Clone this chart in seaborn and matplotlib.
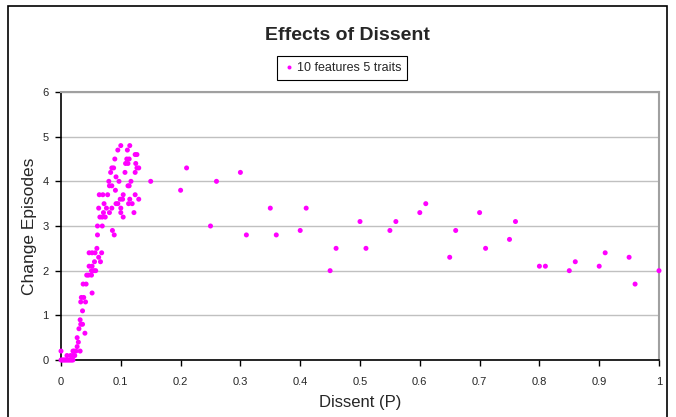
import matplotlib
matplotlib.use("Agg")
from matplotlib import pyplot as plt
from matplotlib.patches import Rectangle
import numpy as np
import pandas as pd
import seaborn as sns

# dissent probability P and number of change episodes
dissent = [
    0.000, 0.002, 0.004, 0.006, 0.008, 0.010, 0.012, 0.014, 0.016, 0.018, 0.020,
    0.000, 0.010, 0.016, 0.020, 0.023, 0.020, 0.022, 0.025, 0.032,
    0.027, 0.029, 0.027, 0.040, 0.030, 0.033, 0.036, 0.032,
    0.036, 0.033, 0.041, 0.034, 0.038, 0.052, 0.037, 0.042,
    0.043, 0.046, 0.051, 0.051, 0.055, 0.058, 0.047, 0.052,
    0.056, 0.066, 0.063, 0.047, 0.052, 0.057, 0.068, 0.060,
    0.061, 0.089, 0.086, 0.061, 0.069,
    0.065, 0.069, 0.074, 0.104, 0.071, 0.081, 0.100, 0.122,
    0.063, 0.076, 0.085, 0.100, 0.072, 0.092, 0.095, 0.113, 0.119,
    0.099, 0.103, 0.115, 0.130, 0.064, 0.070, 0.078, 0.104, 0.124,
    0.091, 0.081, 0.085, 0.112, 0.114, 0.080, 0.097, 0.117, 0.092,
    0.083, 0.107, 0.124, 0.085, 0.088, 0.127, 0.130,
    0.108, 0.112, 0.125, 0.090, 0.110, 0.114, 0.124, 0.127,
    0.095, 0.111, 0.100, 0.115,
    0.15, 0.20, 0.21, 0.25, 0.26, 0.30, 0.31, 0.35, 0.36, 0.40, 0.41,
    0.45, 0.46, 0.50, 0.51, 0.55, 0.56, 0.60, 0.61, 0.65, 0.66,
    0.70, 0.71, 0.75, 0.76, 0.80, 0.81, 0.85, 0.86, 0.90, 0.91,
    0.95, 0.96, 1.00,
]
episodes = [
    0.0, 0.0, 0.0, 0.0, 0.0, 0.0, 0.0, 0.0, 0.0, 0.0, 0.0,
    0.2, 0.1, 0.1, 0.1, 0.1, 0.2, 0.2, 0.2, 0.2,
    0.3, 0.4, 0.5, 0.6, 0.7, 0.8, 0.8, 0.9,
    1.1, 1.3, 1.3, 1.4, 1.4, 1.5, 1.7, 1.7,
    1.9, 1.9, 1.9, 2.0, 2.0, 2.0, 2.1, 2.1,
    2.2, 2.2, 2.3, 2.4, 2.4, 2.4, 2.4, 2.5,
    2.8, 2.8, 2.9, 3.0, 3.0,
    3.2, 3.2, 3.2, 3.2, 3.3, 3.3, 3.3, 3.3,
    3.4, 3.4, 3.4, 3.4, 3.5, 3.5, 3.5, 3.5, 3.5,
    3.6, 3.6, 3.6, 3.6, 3.7, 3.7, 3.7, 3.7, 3.7,
    3.8, 3.9, 3.9, 3.9, 3.9, 4.0, 4.0, 4.0, 4.1,
    4.2, 4.2, 4.2, 4.3, 4.3, 4.3, 4.3,
    4.4, 4.4, 4.4, 4.5, 4.5, 4.5, 4.6, 4.6,
    4.7, 4.7, 4.8, 4.8,
    4.0, 3.8, 4.3, 3.0, 4.0, 4.2, 2.8, 3.4, 2.8, 2.9, 3.4,
    2.0, 2.5, 3.1, 2.5, 2.9, 3.1, 3.3, 3.5, 2.3, 2.9,
    3.3, 2.5, 2.7, 3.1, 2.1, 2.1, 2.0, 2.2, 2.1, 2.4,
    2.3, 1.7, 2.0,
]
series_name = "10 features 5 traits"
x_ticks = [0, 0.1, 0.2, 0.3, 0.4, 0.5, 0.6, 0.7, 0.8, 0.9, 1]
x_tick_labels = ["0", "0.1", "0.2", "0.3", "0.4", "0.5", "0.6", "0.7", "0.8", "0.9", "1"]
y_ticks = [0, 1, 2, 3, 4, 5, 6]

df = pd.DataFrame({"Dissent (P)": dissent, "Change Episodes": episodes})
df["series"] = series_name

sns.set_style("white")
plt.rcParams["font.family"] = ["Liberation Sans", "DejaVu Sans"]

fig = plt.figure(figsize=(6.76, 4.17), dpi=100)
ax = fig.add_axes([61 / 676, 1 - 360 / 417, 598 / 676, 268 / 417])

sns.scatterplot(data=df, x="Dissent (P)", y="Change Episodes", hue="series",
                palette=["#FF00FF"], marker="o", s=13, linewidth=0,
                ax=ax, clip_on=False, zorder=3)

ax.set_xlim(0, 1)
ax.set_ylim(0, 6)
ax.set_xticks(x_ticks)
ax.set_xticklabels(x_tick_labels)
ax.set_yticks(y_ticks)
ax.tick_params(axis="both", labelsize=8, length=4, width=1, direction="out",
               color="black", bottom=True, left=True)
ax.tick_params(axis="x", pad=8)
ax.tick_params(axis="y", pad=5)
ax.yaxis.grid(True, color="#C0C0C0", linewidth=1)
ax.xaxis.grid(False)
ax.set_axisbelow(True)

for side in ["left", "bottom"]:
    ax.spines[side].set_color("black")
    ax.spines[side].set_linewidth(1.2)
for side in ["top", "right"]:
    ax.spines[side].set_color("#A0A0A0")
    ax.spines[side].set_linewidth(1.5)

ax.set_xlabel("Dissent (P)", fontsize=12, labelpad=6)
ax.set_ylabel("Change Episodes", fontsize=12.5, labelpad=3.5)

fig.text(347 / 676, 1 - 36 / 417, "Effects of Dissent", fontsize=14,
         fontweight="bold", ha="center", va="center")

ax.get_legend().remove()
leg = fig.legend(*ax.get_legend_handles_labels(), loc="center",
                 bbox_to_anchor=(342 / 676, 1 - 68 / 417), fontsize=9,
                 frameon=True, fancybox=False, framealpha=1, edgecolor="black",
                 handletextpad=0.2, borderpad=0.45, handlelength=1,
                 markerscale=0.8)
leg.get_frame().set_linewidth(0.8)

# chart area border
fig.patches.append(Rectangle((8 / 676, -0.05), 659 / 676, 1.05 - 6 / 417,
                             transform=fig.transFigure, fill=False,
                             edgecolor="black", linewidth=1.2))

fig.savefig("out.png", dpi=100)
